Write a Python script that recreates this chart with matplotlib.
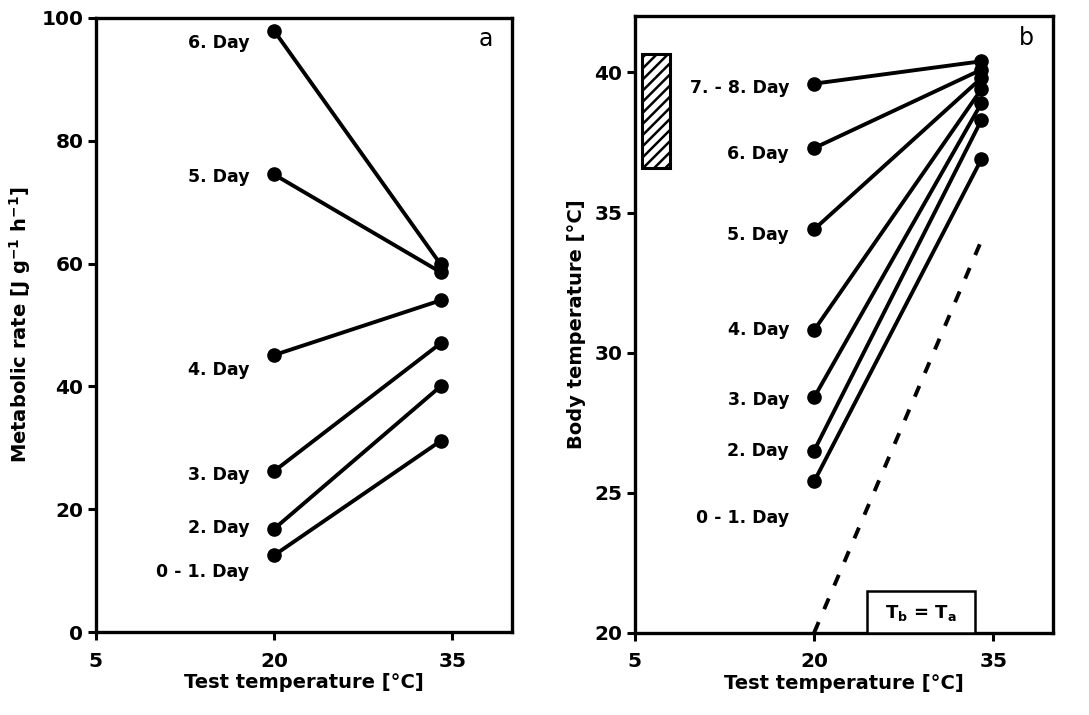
import matplotlib
matplotlib.use("Agg")
import matplotlib.pyplot as plt
from matplotlib.patches import Rectangle

plt.rcParams['font.family'] = ['DejaVu Sans']
plt.rcParams['mathtext.fontset'] = 'dejavusans'
plt.rcParams['hatch.linewidth'] = 1.8

# Data
test_temps = [20, 34]

days_a = ["0 - 1. Day", "2. Day", "3. Day", "4. Day", "5. Day", "6. Day"]
metab_20 = [12.5, 16.8, 26.2, 45.1, 74.5, 97.9]
metab_35 = [31.1, 40.0, 47.0, 54.0, 58.6, 59.9]
label_y_a = [9.8, 16.9, 25.6, 42.7, 74.1, 95.9]

days_b = ["0 - 1. Day", "2. Day", "3. Day", "4. Day", "5. Day", "6. Day", "7. - 8. Day"]
tb_20 = [25.4, 26.5, 28.4, 30.8, 34.4, 37.3, 39.6]
tb_35 = [36.9, 38.3, 38.9, 39.4, 39.8, 40.1, 40.4]
label_y_b = [24.1, 26.5, 28.3, 30.8, 34.2, 37.1, 39.45]

tb_eq_ta = [20, 34]

xticks = [5, 20, 35]
yticks_a = [0, 20, 40, 60, 80, 100]
yticks_b = [20, 25, 30, 35, 40]

fig = plt.figure(figsize=(10.89, 7.15), dpi=100)
ax1 = fig.add_axes([0.088, 0.116, 0.382, 0.859])
ax2 = fig.add_axes([0.583, 0.115, 0.384, 0.862])

lw = 2.8
ms = 9.5
lab_fs = 12.5

def style(ax):
    for s in ax.spines.values():
        s.set_linewidth(2.4)
    ax.tick_params(axis='both', which='major', direction='out', length=6, width=2.2,
                   labelsize=14.5, top=False, right=False)
    ax.tick_params(axis='x', pad=8)
    ax.tick_params(axis='y', pad=3)
    for lab in ax.get_xticklabels() + ax.get_yticklabels():
        lab.set_fontweight('bold')

# Panel a
for y0, y1, name, ly in zip(metab_20, metab_35, days_a, label_y_a):
    ax1.plot(test_temps, [y0, y1], color='black', lw=lw, marker='o', ms=ms,
             solid_capstyle='round')
    ax1.text(17.9, ly, name, ha='right', va='center', fontsize=lab_fs, fontweight='bold')
ax1.set_xlim(5, 40)
ax1.set_ylim(0, 100)
ax1.set_xticks(xticks)
ax1.set_yticks(yticks_a)
ax1.set_xlabel("Test temperature [°C]", fontsize=14, fontweight='bold', labelpad=2)
ax1.set_ylabel(r"Metabolic rate [J g$^{\mathbf{-1}}$ h$^{\mathbf{-1}}$]", fontsize=14,
               fontweight='bold', labelpad=6)
ax1.text(0.955, 0.985, "a", transform=ax1.transAxes, ha='right', va='top', fontsize=17)
style(ax1)

# Panel b
for y0, y1, name, ly in zip(tb_20, tb_35, days_b, label_y_b):
    ax2.plot(test_temps, [y0, y1], color='black', lw=lw, marker='o', ms=ms,
             solid_capstyle='round')
    ax2.text(17.9, ly, name, ha='right', va='center', fontsize=lab_fs, fontweight='bold')
ax2.plot(test_temps, tb_eq_ta, color='black', lw=2.8, linestyle=(0, (3, 3.6)))
ax2.add_patch(Rectangle((5.6, 36.6), 2.3, 4.05, facecolor='white', edgecolor='black',
                        lw=2.2, hatch='///', zorder=3))
ax2.add_patch(Rectangle((24.4, 20.0), 9.1, 1.5, facecolor='white', edgecolor='black',
                        lw=1.8, zorder=3, clip_on=False))
ax2.text(28.95, 20.72, r"T$_\mathbf{b}$ = T$_\mathbf{a}$", ha='center', va='center',
         fontsize=13, fontweight='bold', zorder=4)
ax2.set_xlim(5, 40)
ax2.set_ylim(20, 42)
ax2.set_xticks(xticks)
ax2.set_yticks(yticks_b)
ax2.set_xlabel("Test temperature [°C]", fontsize=14, fontweight='bold', labelpad=2)
ax2.set_ylabel("Body temperature [°C]", fontsize=14, fontweight='bold', labelpad=6)
ax2.text(0.955, 0.985, "b", transform=ax2.transAxes, ha='right', va='top', fontsize=17)
style(ax2)

fig.savefig("out.png", dpi=100)
